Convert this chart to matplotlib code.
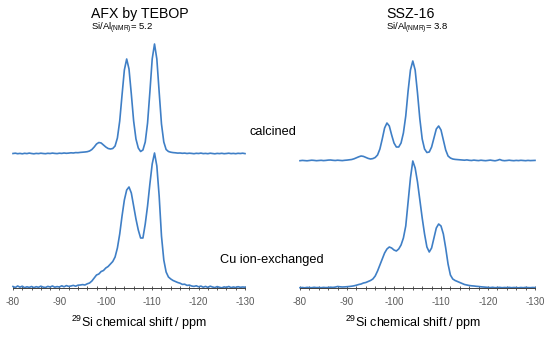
import numpy as np
import matplotlib
matplotlib.use("Agg")
import matplotlib.pyplot as plt
from matplotlib.ticker import MultipleLocator

plt.rcParams.update({
    "font.family": "Liberation Sans",
    "mathtext.fontset": "custom",
    "mathtext.rm": "Liberation Sans",
    "mathtext.it": "Liberation Sans:italic",
    "mathtext.bf": "Liberation Sans:bold",
    "axes.unicode_minus": False,
})

# 29Si chemical shift grid (ppm), 0.5 ppm steps from -80 to -130
ppm = np.arange(-80, -130.01, -0.5)

# intensities (arbitrary units)
afx_calcined = [
    0.5, 0.8, 0.3, 0.6, 0.2, 0.7, 0.4, 0.9, 0.5, 0.2,
    0.6, 0.4, 0.8, 0.5, 0.3, 0.7, 0.5, 0.9, 0.6, 0.4,
    0.8, 0.6, 1.0, 0.7, 0.9, 1.2, 1.0, 1.4, 1.3, 1.6,
    1.8, 2.0, 2.3, 3.0, 4.5, 7.0, 10.0, 11.5, 11.0, 9.0,
    7.0, 5.5, 5.0, 5.5, 8.0, 16, 33, 59, 84, 95,
    85, 60, 33, 15, 6, 2.5, 4, 12, 31, 62,
    95, 110, 95, 62, 30, 12, 4.5, 2.5, 1.8, 1.4,
    1.2, 0.9, 1.0, 0.7, 0.9, 0.5, 0.8, 0.6, 0.3, 0.7,
    0.5, 0.9, 0.4, 0.6, 0.3, 0.8, 0.5, 0.2, 0.6, 0.4,
    0.7, 0.3, 0.5, 0.8, 0.4, 0.6, 0.3, 0.7, 0.5, 0.8,
    0.4,
]
afx_cu = [
    1.5, 0.5, 2.0, 0.8, 1.8, 0.3, 1.2, 0.6, 1.5, 0.4,
    1.3, 0.7, 1.8, 0.9, 0.5, 1.6, 1.0, 2.0, 0.8, 1.4,
    1.0, 2.2, 1.2, 2.4, 1.6, 2.0, 2.6, 1.8, 2.8, 3.0,
    3.4, 3.0, 4.2, 5.0, 7.0, 10.0, 13.0, 14.0, 16.5, 17.5,
    20.0, 21.5, 24.0, 26.5, 31, 40, 54, 72, 88, 98,
    101, 95, 82, 69, 58, 50, 50, 64, 82, 104,
    124, 135, 122, 92, 52, 28, 16, 11, 9, 7.5,
    6.5, 5.5, 4.8, 3.6, 3.8, 2.6, 2.9, 2.0, 1.6, 2.2,
    1.2, 1.9, 0.8, 1.6, 0.6, 1.8, 1.0, 0.4, 1.4, 0.7,
    0.2, 1.1, 0.6, 1.5, 0.4, 1.0, 0.5, 1.3, 0.7, 1.0,
    0.8,
]
ssz_calcined = [
    0.3, 0.6, 0.4, 0.2, 0.5, 0.8, 0.6, 0.3, 0.5, 0.7,
    0.4, 0.6, 0.9, 1.0, 0.7, 0.5, 0.8, 0.6, 0.4, 0.7,
    0.9, 1.2, 1.5, 2.2, 3.2, 4.2, 5.0, 4.6, 3.6, 2.6,
    2.0, 2.4, 3.5, 6.0, 12, 22, 33, 38, 35, 26,
    18, 14, 14, 18, 28, 45, 70, 91, 100, 91,
    68, 42, 22, 12, 8.5, 9, 14, 23, 32, 35,
    31, 21, 11, 5, 3, 2, 1.6, 1.4, 1.2, 1.0,
    0.8, 1.1, 0.7, 0.5, 0.9, 0.6, 0.4, 0.8, 0.5, 0.3,
    0.6, 0.9, 0.5, 0.2, 0.7, 1.5, 0.6, 0.3, 0.5, 0.8,
    0.5, 0.3, 0.6, 0.4, 0.7, 0.5, 0.3, 0.6, 0.4, 0.5,
    0.6,
]
ssz_cu = [
    0.3, 0.5, 0.2, 0.6, 0.4, 0.3, 0.7, 0.4, 0.5, 0.3,
    0.6, 0.4, 0.5, 0.8, 0.6, 0.9, 1.5, 1.2, 1.0, 1.1,
    1.3, 1.5, 1.8, 2.2, 2.8, 3.5, 4.0, 5.0, 5.5, 6.5,
    7.5, 9, 12, 17, 23, 29, 35, 39, 41, 40,
    38, 37, 39, 43, 50, 62, 86, 110, 127, 120,
    106, 88, 70, 54, 41, 36, 40, 50, 60, 64,
    62, 54, 40, 24, 13, 9, 7.5, 6.5, 5.5, 4.5,
    3.5, 3.0, 2.5, 2.2, 2.0, 1.7, 1.5, 1.2, 1.0, 0.8,
    0.6, 0.4, 0.7, 0.3, 0.5, 0.6, 0.3, 0.5, 0.4, 0.6,
    0.3, 0.5, 0.4, 0.2, 0.5, 0.3, 0.6, 0.4, 0.3, 0.5,
    0.4,
]

titles = ["AFX by TEBOP", "SSZ-16"]
si_al = ["5.2", "3.8"]
major_ticks = [-80, -90, -100, -110, -120, -130]

W, H = 550, 337
fig = plt.figure(figsize=(W / 100, H / 100), dpi=100)


def fx(x):
    return x / W


def fy(y):
    return 1 - y / H


line_color = "#3f7fc6"
panels = [
    (13, 232, afx_calcined, afx_cu, 134),
    (300, 235, ssz_calcined, ssz_cu, 127),
]

for (left, width, calc, cu, offset) in panels:
    ax = fig.add_axes([fx(left), 49 / H, width / W, 248 / H])
    ax.plot(ppm, np.array(calc) + offset, color=line_color, lw=1.2, clip_on=False)
    ax.plot(ppm, cu, color=line_color, lw=1.2, clip_on=False)
    ax.set_xlim(-80, -130)
    ax.set_ylim(0, 248)
    for s in ["left", "right", "top"]:
        ax.spines[s].set_visible(False)
    ax.spines["bottom"].set_color("#404040")
    ax.spines["bottom"].set_linewidth(0.7)
    ax.set_yticks([])
    ax.set_xticks(major_ticks)
    ax.xaxis.set_minor_locator(MultipleLocator(2))
    ax.tick_params(axis="x", which="both", direction="inout", length=3.5,
                   width=0.6, color="#404040", labelsize=7,
                   labelcolor="#5a5a5a", pad=5)

# panel headers
for x0, title, ratio in zip([91, 386], titles, si_al):
    fig.text(fx(x0), fy(14), title, fontsize=10.2, ha="left", va="center")
    fig.text(fx(x0), fy(28), r"Si/Al$_\mathrm{(NMR)}$= " + ratio,
             fontsize=6.8, ha="left", va="center")

fig.text(fx(273), fy(132), "calcined", fontsize=9.2, ha="center", va="center")
fig.text(fx(272), fy(260), "Cu ion-exchanged", fontsize=9.2, ha="center", va="center")

for xc in [139, 413]:
    fig.text(fx(xc), fy(323), r"$^{29}\mathrm{Si}$ chemical shift / ppm",
             fontsize=9, ha="center", va="center")

fig.savefig("out.png", dpi=100)
